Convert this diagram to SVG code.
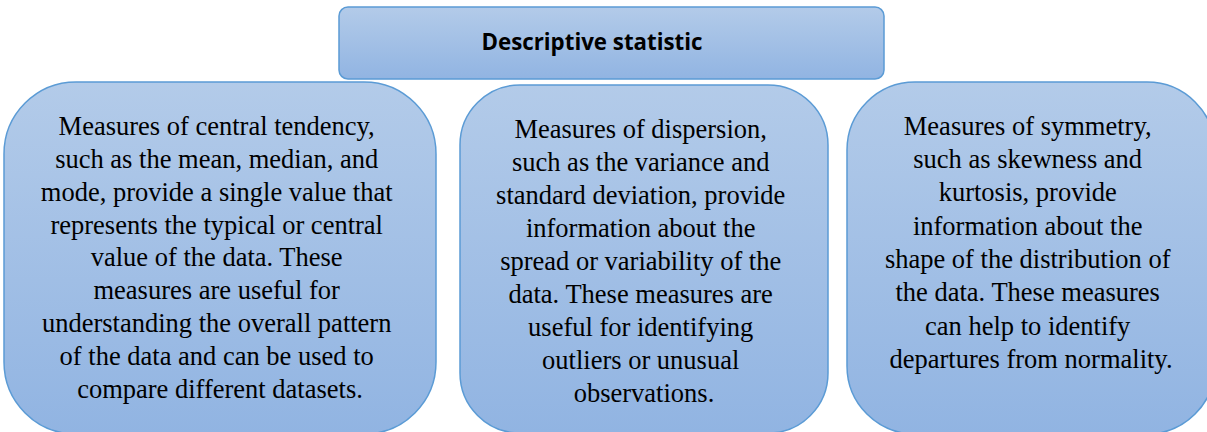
<svg xmlns="http://www.w3.org/2000/svg" width="1207" height="432" viewBox="0 0 1207 432">
<defs>
<linearGradient id="g" x1="0" y1="0" x2="0" y2="1">
<stop offset="0" stop-color="#b3cbe9"/>
<stop offset="1" stop-color="#91b4e2"/>
</linearGradient>
</defs>
<style>
.box{fill:url(#g);stroke:#5b9bd5;stroke-width:1.5}
.t{font-family:'Liberation Serif','DejaVu Serif','Times New Roman',Times,serif;font-size:26.5px;fill:#000;text-anchor:middle}
.h{font-family:'Open Sans','Liberation Sans',Arial,sans-serif;font-weight:bold;font-size:24px;fill:#000;text-anchor:middle}
</style>
<rect width="1207" height="432" fill="#fff"/>
<g id="connectors"></g>
<g id="title">
<rect class="box" x="339" y="7" width="545" height="72" rx="9"/>
<text class="h" x="592" y="50" textLength="221" lengthAdjust="spacingAndGlyphs">Descriptive statistic</text>
</g>
<g id="central">
<rect class="box" x="4" y="82" width="432" height="352" rx="72"/>
<text class="t">
<tspan x="220" y="135">Measures of central tendency,</tspan>
<tspan x="220" y="168">such as the mean, median, and</tspan>
<tspan x="220" y="201">mode, provide a single value that</tspan>
<tspan x="220" y="234">represents the typical or central</tspan>
<tspan x="220" y="266">value of the data. These</tspan>
<tspan x="220" y="299">measures are useful for</tspan>
<tspan x="220" y="332">understanding the overall pattern</tspan>
<tspan x="220" y="365">of the data and can be used to</tspan>
<tspan x="220" y="398">compare different datasets.</tspan>
</text>
</g>
<g id="dispersion">
<rect class="box" x="460" y="85" width="368" height="348" rx="60"/>
<text class="t">
<tspan x="644" y="138">Measures of dispersion,</tspan>
<tspan x="644" y="171">such as the variance and</tspan>
<tspan x="644" y="204">standard deviation, provide</tspan>
<tspan x="644" y="237">information about the</tspan>
<tspan x="644" y="270">spread or variability of the</tspan>
<tspan x="644" y="303">data. These measures are</tspan>
<tspan x="644" y="336">useful for identifying</tspan>
<tspan x="644" y="369">outliers or unusual</tspan>
<tspan x="644" y="402">observations.</tspan>
</text>
</g>
<g id="symmetry">
<rect class="box" x="847" y="82" width="368" height="352" rx="68"/>
<text class="t">
<tspan x="1031" y="135">Measures of symmetry,</tspan>
<tspan x="1031" y="168">such as skewness and</tspan>
<tspan x="1031" y="201">kurtosis, provide</tspan>
<tspan x="1031" y="235">information about the</tspan>
<tspan x="1031" y="268">shape of the distribution of</tspan>
<tspan x="1031" y="301">the data. These measures</tspan>
<tspan x="1031" y="335">can help to identify</tspan>
<tspan x="1031" y="368">departures from normality.</tspan>
</text>
</g>
</svg>
